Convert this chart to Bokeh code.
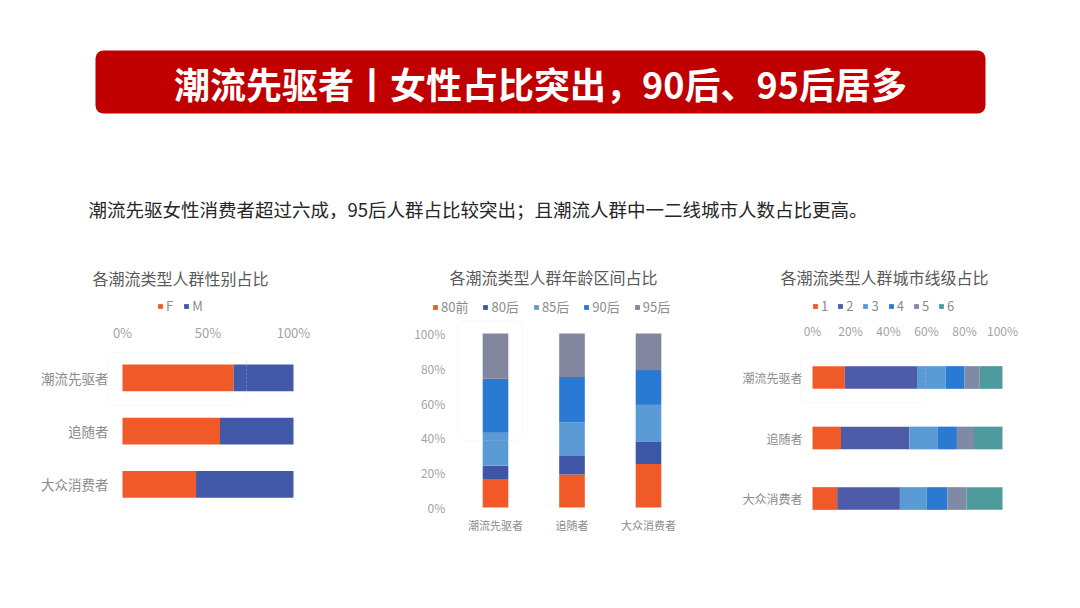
from bokeh.plotting import figure
from bokeh.models import (Range1d, ColumnDataSource, Legend, LegendItem, LinearAxis,
                          FixedTicker, NumeralTickFormatter, BoxAnnotation, Label)
from bokeh.embed import file_html
from bokeh.resources import INLINE

FONT = "Noto Sans CJK SC"

headline = "潮流先驱者丨女性占比突出，90后、95后居多"
summary = "潮流先驱女性消费者超过六成，95后人群占比较突出；且潮流人群中一二线城市人数占比更高。"
chart_titles = ["各潮流类型人群性别占比", "各潮流类型人群年龄区间占比", "各潮流类型人群城市线级占比"]

groups = ["潮流先驱者", "追随者", "大众消费者"]

gender_keys = ["F", "M"]
gender_F = [0.65, 0.57, 0.43]
gender_M = [0.35, 0.43, 0.57]

age_keys = ["80前", "80后", "85后", "90后", "95后"]
age_80q = [0.16, 0.19, 0.25]
age_80h = [0.08, 0.11, 0.13]
age_85h = [0.19, 0.19, 0.21]
age_90h = [0.31, 0.26, 0.20]
age_95h = [0.26, 0.25, 0.21]

city_keys = ["1", "2", "3", "4", "5", "6"]
city_1 = [0.17, 0.15, 0.13]
city_2 = [0.38, 0.36, 0.33]
city_3 = [0.15, 0.15, 0.14]
city_4 = [0.10, 0.10, 0.11]
city_5 = [0.08, 0.09, 0.10]
city_6 = [0.12, 0.15, 0.19]

pct_ticks_gender = [0, 0.5, 1]
pct_ticks = [0, 0.2, 0.4, 0.6, 0.8, 1]

ORANGE = "#F05A28"
gender_colors = [ORANGE, "#4259A9"]
age_colors = [ORANGE, "#3D56A6", "#5B9BD5", "#2A7AD3", "#82879F"]
city_colors = [ORANGE, "#4D5BA8", "#5B9BD5", "#2A7AD3", "#7F8AA6", "#4E9A9C"]

PCT_COLOR = "#A3A3A3"
CAT_COLOR = "#8C8C8C"
LEG_COLOR = "#8C8C8C"

W, H = 1072, 600
idx = list(range(len(groups)))
group_labels = {i: g for i, g in zip(idx, groups)}


def x_span(v0, px0, v1, px1):
    """Range so that value v0 sits at pixel px0 and v1 at px1 (from the left)."""
    s = (px1 - px0) / (v1 - v0)
    return Range1d(start=v0 - px0 / s, end=v0 + (W - px0) / s)


def y_span_down(v0, py0, v1, py1):
    """Range where values grow downward: v0 at pixel py0, v1 at py1 (from the top)."""
    s = (py1 - py0) / (v1 - v0)
    return Range1d(start=v0 + (H - py0) / s, end=v0 - py0 / s)


def y_span_up(v0, py0, v1, py1):
    """Range where values grow upward: v0 at pixel py0, v1 at py1 (from the top)."""
    s = (py0 - py1) / (v1 - v0)
    return Range1d(start=v0 - (H - py0) / s, end=v0 + py0 / s)


p = figure(width=W, height=H, x_range=Range1d(0, W), y_range=Range1d(H, 0),
           x_axis_type=None, y_axis_type=None, toolbar_location=None,
           output_backend="svg", min_border=0)
p.grid.visible = False
p.outline_line_color = None
p.background_fill_color = "white"
p.border_fill_color = "white"

# ---------------- header ----------------
p.add_layout(BoxAnnotation(left=95, right=985, top=50, bottom=113, fill_color="#C00000",
                           fill_alpha=1, line_color=None, border_radius=8))
p.add_layout(Label(x=540, y=82, text=headline, text_align="center", text_baseline="middle",
                   text_color="white", text_font=FONT, text_font_size="36px",
                   text_font_style="bold"))
p.add_layout(Label(x=88, y=208, text=summary, text_align="left", text_baseline="middle",
                   text_color="#262626", text_font=FONT, text_font_size="18.5px"))
for (tx, ty), t in zip([(180, 277), (553, 276), (884, 276)], chart_titles):
    p.add_layout(Label(x=tx, y=ty, text=t, text_align="center", text_baseline="middle",
                       text_color="#595959", text_font=FONT, text_font_size="16px"))

# highlight frames
for l, r, t, b in [(107, 246, 352, 405), (457, 522, 320, 440), (800, 925, 357, 402)]:
    p.add_layout(BoxAnnotation(left=l, right=r, top=t, bottom=b, fill_alpha=0,
                               line_color="#D3D3D3", line_dash="2 2", line_width=1,
                               border_radius=8))


def style_axis(ax, size, standoff, color):
    ax.axis_line_color = None
    ax.major_tick_line_color = None
    ax.minor_tick_line_color = None
    ax.major_tick_out = 0
    ax.major_tick_in = 0
    ax.minor_tick_out = 0
    ax.minor_tick_in = 0
    ax.major_label_text_color = color
    ax.major_label_text_font = FONT
    ax.major_label_text_font_size = size
    ax.major_label_standoff = standoff


def add_legend(keys, rends, x, y, spacing):
    p.add_layout(Legend(items=[LegendItem(label=k, renderers=[r]) for k, r in zip(keys, rends)],
                        orientation="horizontal", location=(x, H - y), border_line_color=None,
                        background_fill_alpha=0, glyph_width=6, glyph_height=6,
                        label_standoff=3, label_width=1, spacing=spacing, padding=0,
                        margin=0, label_height=14, label_text_font=FONT,
                        label_text_font_size="13px", label_text_color=LEG_COLOR))


# ---------------- chart 1: gender ----------------
p.extra_x_ranges["c1x"] = x_span(0, 122, 1, 293)
p.extra_y_ranges["c1y"] = y_span_down(0, 377.3, 2, 483.9)
src1 = ColumnDataSource(dict(idx=idx, F=gender_F, M=gender_M))
r1 = p.hbar_stack(gender_keys, y="idx", height=0.5, fill_color=gender_colors,
                  line_color=None, source=src1, x_range_name="c1x", y_range_name="c1y")
ax = LinearAxis(x_range_name="c1x", y_range_name="c1y", fixed_location=-0.5,
                ticker=FixedTicker(ticks=pct_ticks_gender),
                formatter=NumeralTickFormatter(format="0%"))
style_axis(ax, "13px", 9, PCT_COLOR)
p.add_layout(ax, "above")
ay = LinearAxis(x_range_name="c1x", y_range_name="c1y", fixed_location=0,
                ticker=FixedTicker(ticks=idx), major_label_overrides=group_labels)
style_axis(ay, "13.5px", 14, CAT_COLOR)
p.add_layout(ay, "left")
add_legend(gender_keys, r1, 157, 315, 10)

# ---------------- chart 2: age ----------------
p.extra_x_ranges["c2x"] = x_span(0, 495, 2, 648)
p.extra_y_ranges["c2y"] = y_span_up(0, 507, 1, 333)
src2 = ColumnDataSource({"idx": idx, "80前": age_80q, "80后": age_80h, "85后": age_85h,
                         "90后": age_90h, "95后": age_95h})
r2 = p.vbar_stack(age_keys, x="idx", width=0.335, fill_color=age_colors, line_color=None,
                  source=src2, x_range_name="c2x", y_range_name="c2y")
ay2 = LinearAxis(x_range_name="c2x", y_range_name="c2y", fixed_location=-0.5,
                 ticker=FixedTicker(ticks=pct_ticks),
                 formatter=NumeralTickFormatter(format="0%"))
style_axis(ay2, "12px", 12, PCT_COLOR)
p.add_layout(ay2, "left")
ax2 = LinearAxis(x_range_name="c2x", y_range_name="c2y", fixed_location=0,
                 ticker=FixedTicker(ticks=idx), major_label_overrides=group_labels)
style_axis(ax2, "11px", 9, CAT_COLOR)
p.add_layout(ax2, "below")
add_legend(age_keys, r2, 432, 316, 14)

# ---------------- chart 3: city tier ----------------
p.extra_x_ranges["c3x"] = x_span(0, 812, 1, 1002)
p.extra_y_ranges["c3y"] = y_span_down(0, 377, 2, 498)
src3 = ColumnDataSource({"idx": idx, "1": city_1, "2": city_2, "3": city_3,
                         "4": city_4, "5": city_5, "6": city_6})
r3 = p.hbar_stack(city_keys, y="idx", height=0.375, fill_color=city_colors,
                  line_color=None, source=src3, x_range_name="c3x", y_range_name="c3y")
ax3 = LinearAxis(x_range_name="c3x", y_range_name="c3y", fixed_location=-0.5,
                 ticker=FixedTicker(ticks=pct_ticks),
                 formatter=NumeralTickFormatter(format="0%"))
style_axis(ax3, "12px", 8, PCT_COLOR)
p.add_layout(ax3, "above")
ay3 = LinearAxis(x_range_name="c3x", y_range_name="c3y", fixed_location=0,
                 ticker=FixedTicker(ticks=idx), major_label_overrides=group_labels)
style_axis(ay3, "12px", 10, CAT_COLOR)
p.add_layout(ay3, "left")
add_legend(city_keys, r3, 812, 315, 9)

open("out.html", "w").write(file_html(p, INLINE))
